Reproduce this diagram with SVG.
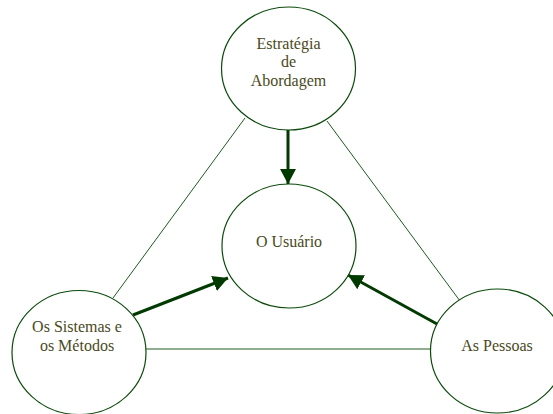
<svg xmlns="http://www.w3.org/2000/svg" width="553" height="414" viewBox="0 0 553 414">
<style>
.node ellipse{fill:#fff;stroke:#0b4a0b;stroke-width:1.2}
.node text{font-family:"Liberation Serif","Times New Roman",serif;font-size:16px;fill:#4a4a1c;text-anchor:middle}
.thin{stroke:#1e5a1e;stroke-width:1;fill:none}
.arrow{stroke:#003a00;stroke-width:3;fill:none;marker-end:url(#ah)}
</style>
<defs>
<marker id="ah" markerUnits="userSpaceOnUse" markerWidth="16" markerHeight="18" refX="15" refY="8" orient="auto" viewBox="0 0 16 16">
<path d="M0,0 L15,8 L0,16 Z" fill="#003a00"/>
</marker>
</defs>
<rect width="553" height="414" fill="#fff"/>
<g id="connectors">
<line class="thin" x1="245" y1="118" x2="113" y2="298"/>
<line class="thin" x1="327" y1="121" x2="460" y2="301"/>
<line class="thin" x1="146" y1="349" x2="431" y2="349"/>
<line class="arrow" x1="288" y1="130" x2="288" y2="184"/>
<line class="arrow" x1="133" y1="315" x2="228" y2="278"/>
<line class="arrow" x1="437" y1="324" x2="348" y2="275"/>
</g>
<g id="estrategia" class="node">
<ellipse cx="288.5" cy="68.5" rx="67" ry="61.5"/>
<text x="288.5" y="49">Estratégia</text>
<text x="288.5" y="67">de</text>
<text x="288.5" y="85.5">Abordagem</text>
</g>
<g id="usuario" class="node">
<ellipse cx="289" cy="246" rx="67" ry="62"/>
<text x="289" y="247">O Usuário</text>
</g>
<g id="sistemas" class="node">
<ellipse cx="79" cy="352.5" rx="67" ry="62"/>
<text x="77" y="331.5">Os Sistemas e</text>
<text x="77" y="350.5">os Métodos</text>
</g>
<g id="pessoas" class="node">
<ellipse cx="497.5" cy="351" rx="67" ry="62"/>
<text x="497" y="351">As Pessoas</text>
</g>
</svg>
